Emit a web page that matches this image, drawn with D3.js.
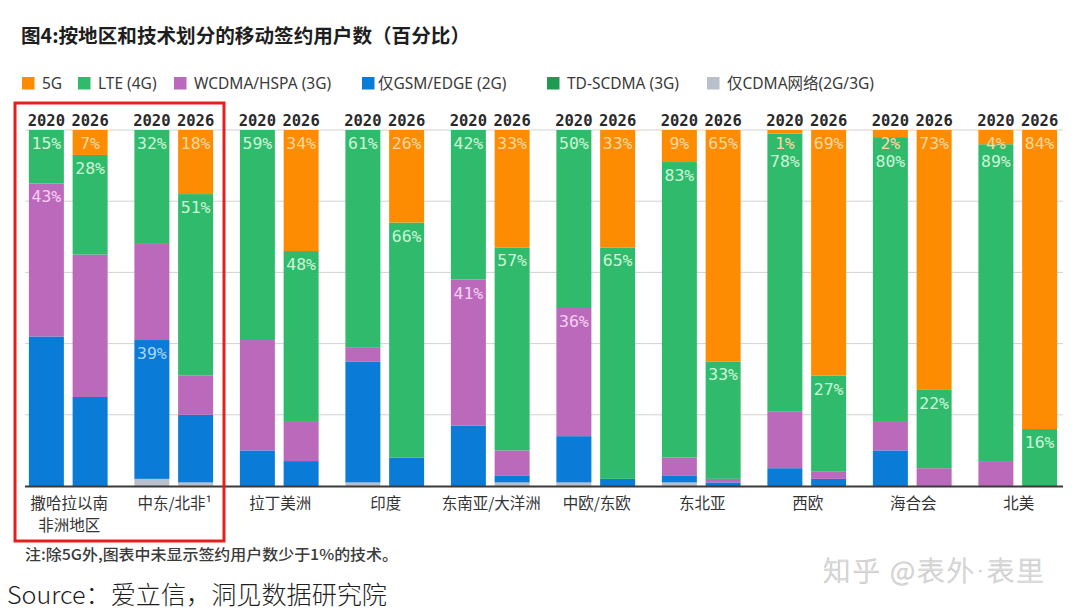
<!DOCTYPE html>
<html>
<head>
<meta charset="utf-8">
<script src="https://cdn.jsdelivr.net/npm/d3@7"></script>
<style>
  html, body { margin: 0; padding: 0; background: #fff; }
  svg { display: block; }
</style>
</head>
<body>
<svg id="chart" width="1080" height="615"></svg>
<script>
// ---------- DATA ----------
const categories = ["撒哈拉以南\n非洲地区", "中东/北非¹", "拉丁美洲", "印度", "东南亚/大洋洲", "中欧/东欧", "东北亚", "西欧", "海合会", "北美"];
const years = ["2020", "2026"];
// each entry: [2020, 2026] per category, percent of subscriptions
const s5G    = [[0,7],[0,18],[0,34],[0,26],[0,33],[0,33],[9,65],[1,69],[2,73],[4,84]];
const sLTE   = [[15,28],[32,51],[59,48],[61,66],[42,57],[50,65],[83,33],[78,27],[80,22],[89,16]];
const sWCDMA = [[43,40],[27,11],[31,11],[4,0],[41,7],[36,0],[5,1],[16,2],[8,5],[7,0]];
const sGSM   = [[42,25],[39,19],[10,7],[34,8],[17,2],[13,2],[2,1],[5,2],[10,0],[0,0]];
const sTDS   = [[0,0],[0,0],[0,0],[0,0],[0,0],[0,0],[0,0],[0,0],[0,0],[0,0]];
const sCDMA  = [[0,0],[2,1],[0,0],[1,0],[0,1],[1,0],[1,0],[0,0],[0,0],[0,0]];
const legendNames = ["5G", "LTE (4G)", "WCDMA/HSPA (3G)", "仅GSM/EDGE (2G)", "TD-SCDMA (3G)", "仅CDMA网络(2G/3G)"];
const yTicks = [0, 20, 40, 60, 80, 100];
// labelled segments: [category index, year index, series key]
const labelSpecs = [
  [0,0,"LTE"],[0,0,"WCDMA"],[0,1,"5G"],[0,1,"LTE"],
  [1,0,"LTE"],[1,0,"GSM"],[1,1,"5G"],[1,1,"LTE"],
  [2,0,"LTE"],[2,1,"5G"],[2,1,"LTE"],
  [3,0,"LTE"],[3,1,"5G"],[3,1,"LTE"],
  [4,0,"LTE"],[4,0,"WCDMA"],[4,1,"5G"],[4,1,"LTE"],
  [5,0,"LTE"],[5,0,"WCDMA"],[5,1,"5G"],[5,1,"LTE"],
  [6,0,"5G"],[6,0,"LTE"],[6,1,"5G"],[6,1,"LTE"],
  [7,0,"5G"],[7,0,"LTE"],[7,1,"5G"],[7,1,"LTE"],
  [8,0,"5G"],[8,0,"LTE"],[8,1,"5G"],[8,1,"LTE"],
  [9,0,"5G"],[9,0,"LTE"],[9,1,"5G"],[9,1,"LTE"]
];

// ---------- STYLE ----------
const seriesDefs = [ // stacking order bottom -> top
  {key:"CDMA",  data:sCDMA,  color:"#b9c0cb", text:"#eef1f5"},
  {key:"GSM",   data:sGSM,   color:"#0b7bd8", text:"#a9d5ff"},
  {key:"TDS",   data:sTDS,   color:"#1f9a52", text:"#c9f3d6"},
  {key:"WCDMA", data:sWCDMA, color:"#bb69bb", text:"#f6d0f4"},
  {key:"LTE",   data:sLTE,   color:"#2fbb6b", text:"#cbf5d8"},
  {key:"5G",    data:s5G,    color:"#fd8c02", text:"#ffd8a0"}
];
const legendOrder = ["5G","LTE","WCDMA","GSM","TDS","CDMA"];
const cjk = "'Noto Sans CJK SC', 'Noto Sans', sans-serif";
const mono = "'DejaVu Sans Mono', monospace";

const svg = d3.select("#chart");
svg.append("rect").attr("width",1080).attr("height",615).attr("fill","#fff");

// title
svg.append("text").attr("x",21).attr("y",43)
  .attr("font-family",cjk).attr("font-weight",700).attr("font-size",19.6)
  .attr("fill","#1e1e1e").text("图4:按地区和技术划分的移动签约用户数（百分比）");

// legend
const legendX = [22, 78, 174, 362, 547, 707];
const lg = svg.append("g");
legendOrder.forEach((k,i) => {
  const def = seriesDefs.find(d => d.key === k);
  const g = lg.append("g").attr("transform",`translate(${legendX[i]},77)`);
  g.append("rect").attr("width",12.5).attr("height",12.5).attr("fill",def.color);
  g.append("text").attr("x", k==="GSM" ? 16 : 20).attr("y",12)
    .attr("font-family","'Noto Sans', 'Noto Sans CJK SC', sans-serif").attr("font-size",15.5)
    .attr("fill","#3a3a3a").text(legendNames[i]);
});

// scales
const y = d3.scaleLinear().domain([0,100]).range([486,130]);
const x0 = d3.scaleBand().domain(categories).range([17,1072]).paddingInner(0).paddingOuter(0);
const x1 = d3.scaleBand().domain(years).range([-1.5, x0.bandwidth()-1.5]).paddingInner(0.2).paddingOuter(0.306);

// gridlines
svg.append("g").selectAll("line").data(yTicks.filter(t => t>0)).join("line")
  .attr("x1",25).attr("x2",1063).attr("y1",d=>y(d)).attr("y2",d=>y(d))
  .attr("stroke","#d2d2d2").attr("stroke-width",1);

// stacked data
const bars = [];
categories.forEach((c,ci) => years.forEach((yr,yi) => {
  let acc = 0;
  const segs = {};
  seriesDefs.forEach(s => {
    const v = s.data[ci][yi];
    segs[s.key] = {y0:acc, y1:acc+v, v:v, def:s};
    acc += v;
  });
  bars.push({c, ci, yr, yi, segs});
}));

const barG = svg.append("g");
bars.forEach(b => {
  const bx = x0(b.c) + x1(b.yr);
  seriesDefs.forEach(s => {
    const seg = b.segs[s.key];
    if (seg.v <= 0) return;
    barG.append("rect")
      .attr("x",bx).attr("width",x1.bandwidth())
      .attr("y",y(seg.y1)).attr("height",y(seg.y0)-y(seg.y1))
      .attr("fill",s.color);
  });
});

// axis baseline
svg.append("line").attr("x1",25).attr("x2",1063).attr("y1",y(0)+0.5).attr("y2",y(0)+0.5)
  .attr("stroke","#3a3a3a").attr("stroke-width",2);

// year labels
bars.forEach(b => {
  svg.append("text").attr("x", x0(b.c)+x1(b.yr)+x1.bandwidth()/2).attr("y",126)
    .attr("text-anchor","middle").attr("font-family",mono).attr("font-weight",700)
    .attr("font-size",15.5).attr("fill","#2a2a2a").text(b.yr);
});

// value labels (top to bottom per bar)
const lastBase = {};
const orderTop = ["5G","LTE","WCDMA","TDS","GSM","CDMA"];
const sortedSpecs = labelSpecs.slice().sort((a,b) => (a[0]-b[0]) || (a[1]-b[1]) || (orderTop.indexOf(a[2]) - orderTop.indexOf(b[2])));
sortedSpecs.forEach(([ci,yi,key]) => {
  const b = bars.find(d => d.ci===ci && d.yi===yi);
  const seg = b.segs[key];
  const id = ci+"_"+yi;
  let base = y(seg.y1) + 19;
  if (lastBase[id] !== undefined && base < lastBase[id] + 18) base = lastBase[id] + 18;
  lastBase[id] = base;
  svg.append("text").attr("x", x0(b.c)+x1(b.yr)+x1.bandwidth()/2).attr("y",base)
    .attr("text-anchor","middle").attr("font-family",mono).attr("font-size",16.5)
    .attr("fill",seg.def.text).text(seg.v + "%");
});

// category labels
categories.forEach(c => {
  const lines = c.split("\n");
  const t = svg.append("text").attr("x", x0(c)+x0.bandwidth()/2 - 0.5).attr("y",509)
    .attr("text-anchor","middle").attr("font-family",cjk).attr("font-size",15.5).attr("fill","#333");
  lines.forEach((l,i) => t.append("tspan").attr("x", x0(c)+x0.bandwidth()/2 - 0.5).attr("dy", i===0?0:22).text(l));
});

// red highlight box
svg.append("rect").attr("x",15).attr("y",103).attr("width",209).attr("height",438)
  .attr("fill","none").attr("stroke","#e3201c").attr("stroke-width",3);

// note
svg.append("text").attr("x",25).attr("y",560)
  .attr("font-family",cjk).attr("font-size",15).attr("font-weight",500).attr("fill","#3a3a3a")
  .attr("textLength",373).attr("lengthAdjust","spacingAndGlyphs")
  .text("注:除5G外,图表中未显示签约用户数少于1%的技术。");

// source
svg.append("text").attr("x",7).attr("y",604)
  .attr("font-family",cjk).attr("font-size",24.5).attr("font-weight",300).attr("fill","#1e1e1e")
  .attr("textLength",380).attr("lengthAdjust","spacingAndGlyphs")
  .text("Source：爱立信，洞见数据研究院");

// watermark
const wm = svg.append("text").attr("x",823).attr("y",581)
  .attr("font-family",cjk).attr("font-size",27.5).attr("font-weight",300)
  .attr("fill","#e6e6e6").attr("stroke","#c4c4c4").attr("stroke-width",0.6)
  .attr("letter-spacing",2);
wm.append("tspan").text("知乎 @表外");
wm.append("tspan").attr("font-family","'DejaVu Sans', sans-serif").text("·");
wm.append("tspan").text("表里");
</script>
</body>
</html>
